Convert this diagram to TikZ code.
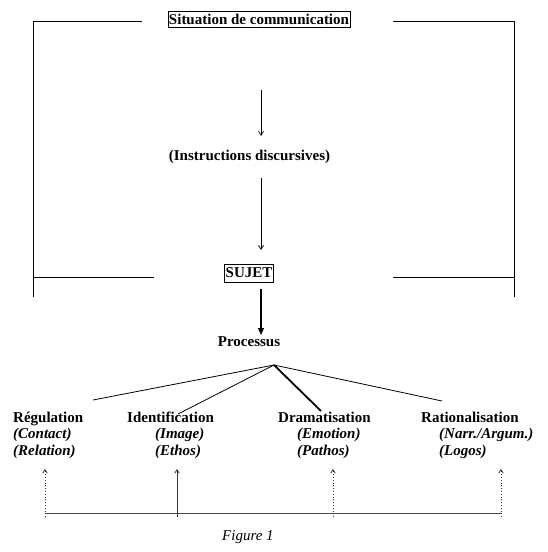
\documentclass[tikz,border=0pt]{standalone}
\usepackage{fontspec}
\setmainfont{Liberation Serif}
\usetikzlibrary{arrows.meta}
\begin{document}
\begin{tikzpicture}[x=1pt,y=-1pt,
  lbl/.style={inner sep=0pt, anchor=base west, font=\fontsize{15}{16.5}\selectfont\bfseries},
  sub/.style={inner sep=0pt, anchor=base west, font=\fontsize{15}{16.5}\selectfont\bfseries\itshape},
  boxed/.style={draw, line width=0.8pt, inner xsep=0.9pt, font=\fontsize{15}{16.5}\selectfont\bfseries},
  frame/.style={line width=0.9pt},
  thinarrow/.style={line width=0.7pt, -{Straight Barb[length=4pt,width=5pt]}},
  thickarrow/.style={line width=1.2pt, -{Triangle[length=7pt,width=6pt]}},
  fan/.style={line width=0.8pt},
  fanthick/.style={line width=1.8pt},
  uparrow/.style={line width=0.8pt, black!80, -{Straight Barb[length=3.5pt,width=4.5pt]}},
  dotarrow/.style={uparrow, dotted},
  base/.style={line width=0.9pt, black!70}
]
\useasboundingbox (0,0) rectangle (547,552);

% frame
\draw[frame] (33,297) -- (33,21) -- (142,21);
\draw[frame] (393,21) -- (514,21) -- (514,297);
\draw[frame] (33,277) -- (154,277);
\draw[frame] (393,277) -- (514,277);

% top nodes
\node[boxed, inner ysep=2.4pt] (sit) at (259,19.5) {Situation de communication};
\node[lbl, anchor=base] (instr) at (249.5,160) {(Instructions discursives)};
\node[boxed, inner ysep=4pt] (sujet) at (249,273) {SUJET};
\node[lbl, anchor=base] (proc) at (249,346) {Processus};

\coordinate (a1s) at (261,90);
\coordinate (a1e) at (261,136);
\coordinate (a2s) at (261,178);
\coordinate (a2e) at (261,250);
\coordinate (a3s) at (261,289);
\coordinate (a3e) at (261,335);
\draw[thinarrow] (a1s) -- (a1e);
\draw[thinarrow] (a2s) -- (a2e);
\draw[thickarrow] (a3s) -- (a3e);

% categories
\node[lbl] (reg) at (13,422) {Régulation};
\node[sub] (reg1) at (13,438.5) {(Contact)};
\node[sub] (reg2) at (13,455) {(Relation)};

\node[lbl] (ide) at (127,422) {Identification};
\node[sub] (ide1) at (155,438.5) {(Image)};
\node[sub] (ide2) at (155,455) {(Ethos)};

\node[lbl] (dra) at (278,422) {Dramatisation};
\node[sub] (dra1) at (297,438.5) {(Emotion)};
\node[sub] (dra2) at (297,455) {(Pathos)};

\node[lbl] (rat) at (421,422) {Rationalisation};
\node[sub] (rat1) at (439,438.5) {(Narr./Argum.)};
\node[sub] (rat2) at (439,455) {(Logos)};

% fan
\coordinate (apex) at (274,365);
\coordinate (f1) at (93,400);
\coordinate (f2) at (178,414);
\coordinate (f3) at (321,411);
\coordinate (f4) at (442,401);
\draw[fan] (apex) -- (f1);
\draw[fan] (apex) -- (f2);
\draw[fanthick] (apex) -- (f3);
\draw[fan] (apex) -- (f4);

% bottom arrows
\coordinate (b1) at (45,517);
\coordinate (b2) at (177,517);
\coordinate (b3) at (333,517);
\coordinate (b4) at (501,517);
\coordinate (t1) at (45,469);
\coordinate (t2) at (177,469);
\coordinate (t3) at (333,469);
\coordinate (t4) at (501,469);
\coordinate (l1) at (45,513);
\coordinate (l4) at (501,513);
\draw[base] (l1) -- (l4);
\draw[dotarrow] (b1) -- (t1);
\draw[uparrow] (b2) -- (t2);
\draw[dotarrow] (b3) -- (t3);
\draw[dotarrow] (b4) -- (t4);

\node[inner sep=0pt, anchor=base west, font=\fontsize{15}{16.5}\selectfont\itshape] (fig) at (222,540) {Figure 1};
\end{tikzpicture}
\end{document}
